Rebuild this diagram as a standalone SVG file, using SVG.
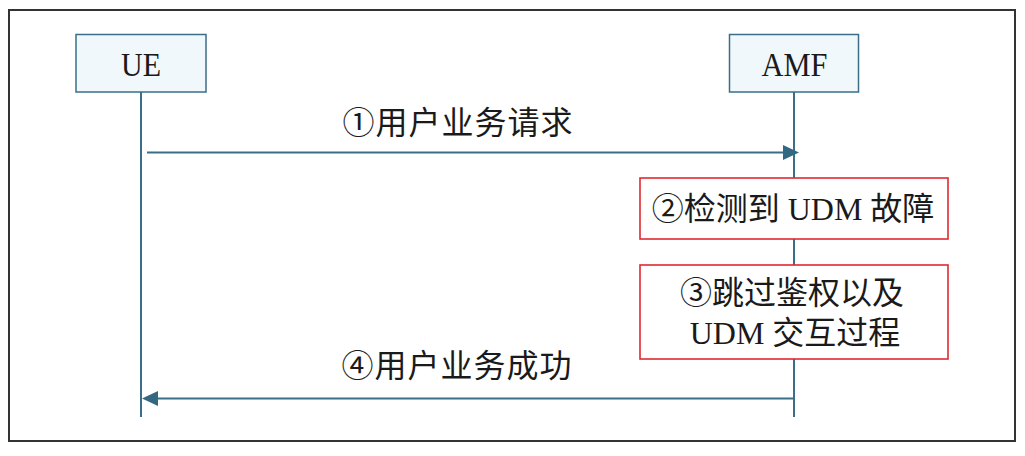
<svg xmlns="http://www.w3.org/2000/svg" width="1025" height="456" viewBox="0 0 1025 456">
<style>
.frame{fill:#fff;stroke:#333;stroke-width:2}
.actor{fill:#f0f8fc;stroke:#3a6f87;stroke-width:1.5}
.life{stroke:#3a6f87;stroke-width:2;fill:none}
.msg{stroke:#3a6f87;stroke-width:2;fill:none}
.head{fill:#336882}
.step{fill:#fff;stroke:#e0282f;stroke-width:1.6}
.t{font-family:"Liberation Serif","Noto Sans CJK SC",serif;fill:#1a1a1a;text-anchor:middle}
.lbl{font-size:32px;letter-spacing:1px}
.big{font-size:32px}
.act{font-size:34px}
</style>
<rect class="frame" x="9" y="10" width="1006" height="431"/>
<g id="connectors">
<line class="life" x1="141" y1="92" x2="141" y2="417"/>
<line class="life" x1="794" y1="92" x2="794" y2="417"/>
<g id="msg1">
<line class="msg" x1="147" y1="152.5" x2="785" y2="152.5"/>
<polygon class="head" points="783,145 799,152.5 783,160"/>
<text class="t lbl" x="458" y="134">①用户业务请求</text>
</g>
<g id="msg4">
<line class="msg" x1="794" y1="398.5" x2="155" y2="398.5"/>
<polygon class="head" points="158,391 142,398.5 158,406"/>
<text class="t lbl" x="457" y="377">④用户业务成功</text>
</g>
</g>
<g id="UE">
<rect class="actor" x="76" y="34.5" width="130" height="57.5"/>
<text class="t act" x="141" y="75.5" textLength="40" lengthAdjust="spacingAndGlyphs">UE</text>
</g>
<g id="AMF">
<rect class="actor" x="729.5" y="34.5" width="129" height="57.5"/>
<text class="t act" x="794.5" y="75.5" textLength="66" lengthAdjust="spacingAndGlyphs">AMF</text>
</g>
<g id="step2">
<rect class="step" x="640" y="178" width="308" height="61"/>
<text class="t big" x="793" y="220">②检测到 UDM 故障</text>
</g>
<g id="step3">
<rect class="step" x="640" y="265" width="308" height="94"/>
<text class="t big" x="792" y="304">③跳过鉴权以及</text>
<text class="t big" x="795" y="344">UDM 交互过程</text>
</g>
</svg>
